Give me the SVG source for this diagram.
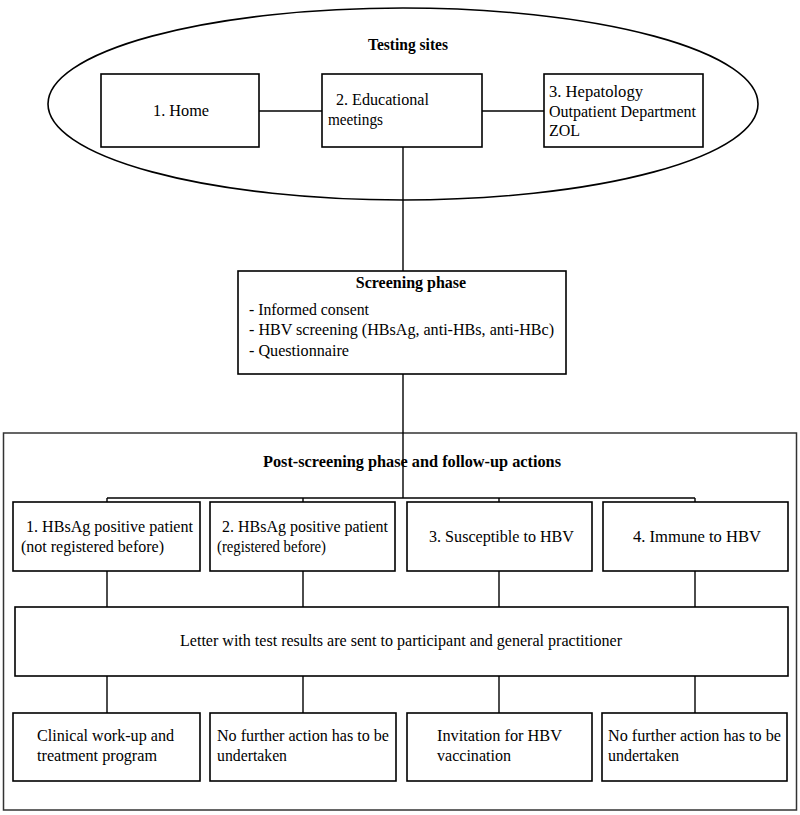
<svg xmlns="http://www.w3.org/2000/svg" width="800" height="815" viewBox="0 0 800 815">
<style>
  .box{fill:#fff;stroke:#000;stroke-width:1.6}
  .frame{fill:none;stroke:#333;stroke-width:1.5}
  .t{font-family:"Liberation Serif","Times New Roman",serif;font-size:16px;fill:#000}
  .b{font-weight:bold}
  .c{text-anchor:middle}
  .ln{stroke:#000;stroke-width:1.4;fill:none}
</style>
<rect width="800" height="815" fill="#fff"/>
<g id="testing-sites">
  <ellipse cx="403" cy="104" rx="355" ry="96" class="box"/>
  <text class="t b c" x="408" y="50" textLength="80" lengthAdjust="spacingAndGlyphs">Testing sites</text>
</g>
<g id="post-screening">
  <rect x="3.5" y="433" width="793" height="377" class="frame"/>
  <text class="t b c" x="412" y="467" textLength="298" lengthAdjust="spacingAndGlyphs">Post-screening phase and follow-up actions</text>
</g>
<g id="connectors">
  <line class="ln" x1="259" y1="111" x2="322" y2="111"/>
  <line class="ln" x1="482" y1="111" x2="544" y2="111"/>
  <line class="ln" x1="403" y1="147" x2="403" y2="271"/>
  <line class="ln" x1="403" y1="374" x2="403" y2="498"/>
  <line class="ln" x1="107" y1="498" x2="695" y2="498"/>
  <line class="ln" x1="107" y1="498" x2="107" y2="502"/>
  <line class="ln" x1="303" y1="498" x2="303" y2="502"/>
  <line class="ln" x1="499" y1="498" x2="499" y2="502"/>
  <line class="ln" x1="695" y1="498" x2="695" y2="502"/>
  <line class="ln" x1="107" y1="571" x2="107" y2="607"/>
  <line class="ln" x1="303" y1="571" x2="303" y2="607"/>
  <line class="ln" x1="499" y1="571" x2="499" y2="607"/>
  <line class="ln" x1="695" y1="571" x2="695" y2="607"/>
  <line class="ln" x1="107" y1="676" x2="107" y2="713"/>
  <line class="ln" x1="303" y1="676" x2="303" y2="713"/>
  <line class="ln" x1="499" y1="676" x2="499" y2="713"/>
  <line class="ln" x1="695" y1="676" x2="695" y2="713"/>
</g>
<g id="home">
  <rect x="101" y="74" width="158" height="73" class="box"/>
  <text class="t" x="153" y="116" textLength="56" lengthAdjust="spacingAndGlyphs">1. Home</text>
</g>
<g id="educational">
  <rect x="322" y="74" width="160" height="73" class="box"/>
  <text class="t" x="336" y="105" textLength="93" lengthAdjust="spacingAndGlyphs">2. Educational</text>
  <text class="t" x="328" y="125" textLength="55" lengthAdjust="spacingAndGlyphs">meetings</text>
</g>
<g id="hepatology">
  <rect x="544" y="74" width="159" height="73" class="box"/>
  <text class="t" x="549" y="97" textLength="94" lengthAdjust="spacingAndGlyphs">3. Hepatology</text>
  <text class="t" x="549" y="117" textLength="147" lengthAdjust="spacingAndGlyphs">Outpatient Department</text>
  <text class="t" x="549" y="136">ZOL</text>
</g>
<g id="screening">
  <rect x="238" y="271" width="328" height="103" class="box"/>
  <text class="t b c" x="411" y="288">Screening phase</text>
  <text class="t" x="249" y="315" textLength="120" lengthAdjust="spacingAndGlyphs">- Informed consent</text>
  <text class="t" x="249" y="335" textLength="305" lengthAdjust="spacingAndGlyphs">- HBV screening (HBsAg, anti-HBs, anti-HBc)</text>
  <text class="t" x="249" y="356" textLength="100" lengthAdjust="spacingAndGlyphs">- Questionnaire</text>
</g>
<g id="hbsag-new">
  <rect x="13" y="502" width="187" height="69" class="box"/>
  <text class="t" x="26" y="532" textLength="167" lengthAdjust="spacingAndGlyphs">1. HBsAg positive patient</text>
  <text class="t" x="21" y="552" textLength="143" lengthAdjust="spacingAndGlyphs">(not registered before)</text>
</g>
<g id="hbsag-registered">
  <rect x="210" y="502" width="185" height="69" class="box"/>
  <text class="t" x="222" y="532" textLength="166" lengthAdjust="spacingAndGlyphs">2. HBsAg positive patient</text>
  <text class="t" x="217" y="552" textLength="109" lengthAdjust="spacingAndGlyphs">(registered before)</text>
</g>
<g id="susceptible">
  <rect x="407" y="502" width="185" height="69" class="box"/>
  <text class="t" x="429" y="542" textLength="145" lengthAdjust="spacingAndGlyphs">3. Susceptible to HBV</text>
</g>
<g id="immune">
  <rect x="603" y="502" width="185" height="69" class="box"/>
  <text class="t" x="633" y="542" textLength="128" lengthAdjust="spacingAndGlyphs">4. Immune to HBV</text>
</g>
<g id="letter">
  <rect x="15" y="607" width="773" height="69" class="box"/>
  <text class="t" x="180" y="646" textLength="442" lengthAdjust="spacingAndGlyphs">Letter with test results are sent to participant and general practitioner</text>
</g>
<g id="clinical">
  <rect x="13" y="713" width="187" height="68" class="box"/>
  <text class="t" x="37" y="741" textLength="137" lengthAdjust="spacingAndGlyphs">Clinical work-up and</text>
  <text class="t" x="37" y="761" textLength="120" lengthAdjust="spacingAndGlyphs">treatment program</text>
</g>
<g id="no-action-1">
  <rect x="210" y="713" width="186" height="68" class="box"/>
  <text class="t" x="217" y="741" textLength="172" lengthAdjust="spacingAndGlyphs">No further action has to be</text>
  <text class="t" x="217" y="761" textLength="70" lengthAdjust="spacingAndGlyphs">undertaken</text>
</g>
<g id="vaccination">
  <rect x="407" y="713" width="185" height="68" class="box"/>
  <text class="t" x="437" y="741" textLength="125" lengthAdjust="spacingAndGlyphs">Invitation for HBV</text>
  <text class="t" x="437" y="761" textLength="74" lengthAdjust="spacingAndGlyphs">vaccination</text>
</g>
<g id="no-action-2">
  <rect x="602" y="713" width="185" height="68" class="box"/>
  <text class="t" x="608" y="741" textLength="173" lengthAdjust="spacingAndGlyphs">No further action has to be</text>
  <text class="t" x="608" y="761" textLength="71" lengthAdjust="spacingAndGlyphs">undertaken</text>
</g>
</svg>
